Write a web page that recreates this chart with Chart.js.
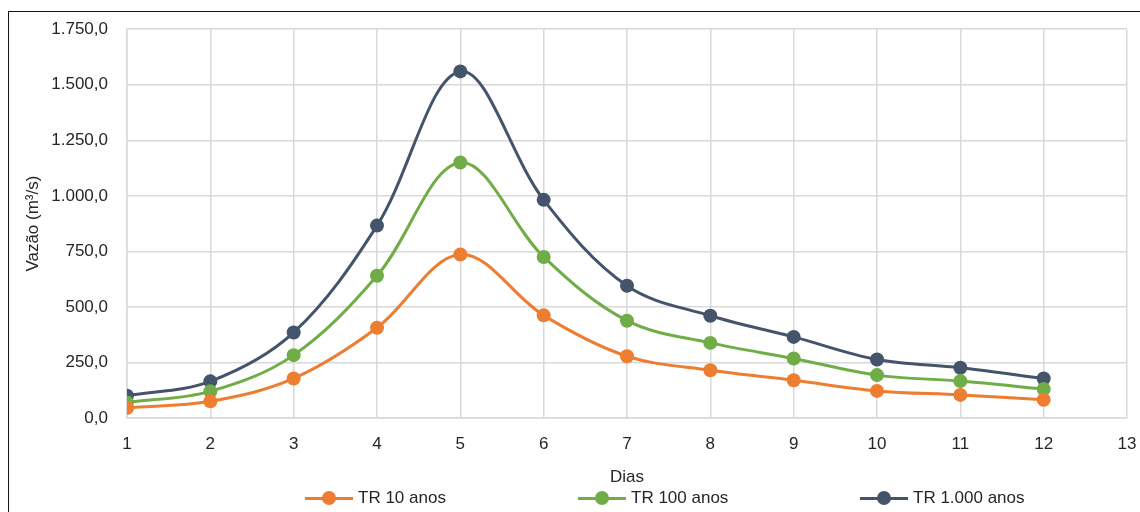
<!DOCTYPE html>
<html>
<head>
<meta charset="utf-8">
<script src="https://cdn.jsdelivr.net/npm/chart.js@4"></script>
<style>
  html, body { margin: 0; padding: 0; background: #fff; }
  body { width: 1140px; height: 512px; position: relative; overflow: hidden; font-family: "Liberation Sans", Arial, sans-serif; }
  #frame { position: absolute; left: 8px; top: 11px; width: 1200px; height: 600px; border: 1px solid #111; box-sizing: border-box; }
  #wrap { position: absolute; left: 0; top: 0; width: 1140px; height: 512px; }
  .leg { position: absolute; top: 488px; height: 20px; font-size: 17px; color: #262626; line-height: 20px; }
  .leg .ln { position: absolute; left: 0; top: 9px; width: 48px; height: 3px; }
  .leg .dot { position: absolute; left: 17px; top: 3px; width: 14px; height: 14px; border-radius: 50%; }
  .leg .tx { position: absolute; left: 53px; top: 0; white-space: nowrap; }
</style>
</head>
<body>
<div id="frame"></div>
<div id="wrap"><canvas id="grafico" width="1140" height="512"></canvas></div>
<div id="legenda"></div>
<script>
// dias e vazões (m³/s)
var dias = [1, 2, 3, 4, 5, 6, 7, 8, 9, 10, 11, 12];
var tr10 = [45, 75, 178, 406, 736, 462, 278, 215, 170, 122, 104, 82];
var tr100 = [70, 120, 283, 640, 1150, 725, 438, 338, 268, 193, 166, 130];
var tr1000 = [100, 165, 385, 866, 1560, 982, 595, 460, 365, 263, 226, 178];
var nomes = ["TR 10 anos", "TR 100 anos", "TR 1.000 anos"];
var cores = ["#ED7D31", "#70AD47", "#44546A"];
var legendaX = [305, 578, 860];

var fonte = { family: "'Liberation Sans', Arial, sans-serif", size: 17 };
var corTexto = "#262626";

function pontos(vals) {
  return dias.map(function (d, i) { return { x: d, y: vals[i] }; });
}

function fmt(v) {
  // formato pt-BR: 1.750,0
  var s = Math.round(v).toString().replace(/\B(?=(\d{3})+(?!\d))/g, ".");
  return s + ",0";
}

var series = [tr10, tr100, tr1000];
var datasets = series.map(function (vals, i) {
  return {
    label: nomes[i],
    data: pontos(vals),
    borderColor: cores[i],
    backgroundColor: cores[i],
    borderWidth: 3,
    pointRadius: 7,
    pointHoverRadius: 7,
    pointBorderWidth: 0,
    tension: 0.35
  };
});

new Chart(document.getElementById("grafico").getContext("2d"), {
  type: "line",
  data: { datasets: datasets },
  options: {
    responsive: false,
    animation: false,
    layout: { padding: { top: 26, right: 13, left: 0, bottom: 0 } },
    plugins: { legend: { display: false }, tooltip: { enabled: false } },
    scales: {
      x: {
        type: "linear",
        min: 1,
        max: 13,
        afterFit: function (s) { s.height = 94; s.paddingRight = 0; s.paddingLeft = 0; },
        ticks: { stepSize: 1, font: fonte, color: corTexto, padding: 16, maxRotation: 0 },
        grid: { color: "#d9d9d9", drawTicks: false, lineWidth: 1.5 },
        border: { color: "#d9d9d9", width: 1.5 },
        title: { display: true, text: "Dias", font: fonte, color: corTexto, padding: { top: 0, bottom: 24 } }
      },
      y: {
        min: 0,
        max: 1750,
        afterFit: function (s) { s.width = 127; },
        ticks: { stepSize: 250, font: fonte, color: corTexto, padding: 19, callback: function (v) { return fmt(v); } },
        grid: { color: "#d9d9d9", drawTicks: false, lineWidth: 1.5 },
        border: { color: "#d9d9d9", width: 1.5 },
        title: { display: true, text: "Vazão (m³/s)", font: fonte, color: corTexto, padding: { top: 23, bottom: 0 } }
      }
    }
  }
});

// legenda em HTML
var leg = document.getElementById("legenda");
nomes.forEach(function (n, i) {
  var d = document.createElement("div");
  d.className = "leg";
  d.style.left = legendaX[i] + "px";
  d.innerHTML = '<div class="ln" style="background:' + cores[i] + '"></div>' +
    '<div class="dot" style="background:' + cores[i] + '"></div>' +
    '<span class="tx">' + n + '</span>';
  leg.appendChild(d);
});
</script>
</body>
</html>
